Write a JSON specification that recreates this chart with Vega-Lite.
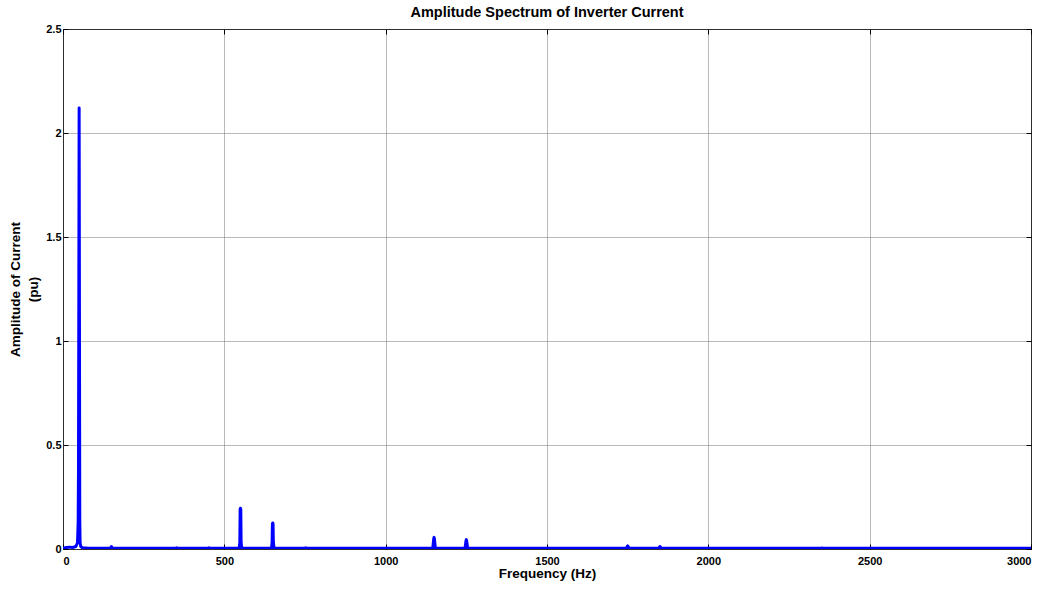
{
  "$schema": "https://vega.github.io/schema/vega-lite/v6.json",
  "width": 968,
  "height": 520,
  "autosize": {"type": "none"},
  "padding": {"left": 63, "top": 29, "right": 20, "bottom": 41},
  "background": "white",
  "title": {
    "text": "Amplitude Spectrum of Inverter Current",
    "font": "Liberation Sans",
    "fontSize": 14.5,
    "fontWeight": "bold",
    "color": "black",
    "anchor": "middle",
    "offset": 3
  },
  "config": {
    "view": {"stroke": "black", "strokeWidth": 1},
    "axis": {
      "labelFont": "Liberation Sans",
      "labelFontSize": 11,
      "labelFontWeight": "bold",
      "labelColor": "black",
      "titleFont": "Liberation Sans",
      "titleFontSize": 13.5,
      "titleFontWeight": "bold",
      "titleColor": "black",
      "domain": false,
      "tickColor": "black",
      "tickSize": -5,
      "gridColor": "#666666",
      "gridDash": [1, 1],
      "gridOpacity": 0.9
    }
  },
  "data": {
    "values": [
      {"f": 0, "a": 0.004}, {"f": 10, "a": 0.007}, {"f": 20, "a": 0.009}, {"f": 30, "a": 0.007},
      {"f": 40, "a": 0.012}, {"f": 45, "a": 0.03}, {"f": 47, "a": 0.13}, {"f": 48, "a": 0.38},
      {"f": 49, "a": 1.2}, {"f": 50, "a": 2.12}, {"f": 51, "a": 1.1}, {"f": 52, "a": 0.14},
      {"f": 53, "a": 0.03}, {"f": 55, "a": 0.012}, {"f": 60, "a": 0.006}, {"f": 80, "a": 0.004},
      {"f": 147, "a": 0.004}, {"f": 150, "a": 0.012}, {"f": 153, "a": 0.004},
      {"f": 350, "a": 0.004}, {"f": 352, "a": 0.006}, {"f": 354, "a": 0.004},
      {"f": 450, "a": 0.004}, {"f": 452, "a": 0.006}, {"f": 454, "a": 0.004},
      {"f": 546, "a": 0.004}, {"f": 548, "a": 0.03}, {"f": 549, "a": 0.19}, {"f": 550, "a": 0.196},
      {"f": 551, "a": 0.19}, {"f": 552, "a": 0.03}, {"f": 554, "a": 0.004},
      {"f": 646, "a": 0.004}, {"f": 648, "a": 0.03}, {"f": 649, "a": 0.12}, {"f": 650, "a": 0.125},
      {"f": 651, "a": 0.12}, {"f": 652, "a": 0.03}, {"f": 654, "a": 0.004},
      {"f": 750, "a": 0.004}, {"f": 752, "a": 0.006}, {"f": 754, "a": 0.004},
      {"f": 1146, "a": 0.004}, {"f": 1149, "a": 0.05}, {"f": 1150, "a": 0.056}, {"f": 1151, "a": 0.05},
      {"f": 1154, "a": 0.004},
      {"f": 1246, "a": 0.004}, {"f": 1249, "a": 0.04}, {"f": 1250, "a": 0.045}, {"f": 1251, "a": 0.04},
      {"f": 1254, "a": 0.004},
      {"f": 1746, "a": 0.004}, {"f": 1749, "a": 0.013}, {"f": 1750, "a": 0.015}, {"f": 1751, "a": 0.013},
      {"f": 1754, "a": 0.004},
      {"f": 1846, "a": 0.004}, {"f": 1849, "a": 0.01}, {"f": 1850, "a": 0.012}, {"f": 1851, "a": 0.01},
      {"f": 1854, "a": 0.004},
      {"f": 2350, "a": 0.004}, {"f": 2352, "a": 0.005}, {"f": 2354, "a": 0.004},
      {"f": 3000, "a": 0.004}
    ]
  },
  "layer": [
    {
      "mark": {"type": "line", "color": "#0000ff", "strokeWidth": 3, "strokeJoin": "round", "clip": true},
      "encoding": {
        "x": {
          "field": "f", "type": "quantitative",
          "scale": {"domain": [0, 3000], "nice": false, "zero": false},
          "axis": {"title": "Frequency (Hz)", "format": "d", "values": [0, 500, 1000, 1500, 2000, 2500, 3000], "labelPadding": 11, "titlePadding": 0}
        },
        "y": {
          "field": "a", "type": "quantitative",
          "scale": {"domain": [0, 2.5], "nice": false},
          "axis": {"title": ["Amplitude of Current", "(pu)"], "titleLineHeight": 18, "format": "~g", "values": [0, 0.5, 1, 1.5, 2, 2.5], "labelPadding": 7, "titlePadding": 5}
        }
      }
    },
    {
      "mark": {"type": "line", "opacity": 0},
      "encoding": {
        "x": {"field": "f", "type": "quantitative", "axis": {"orient": "top", "labels": false, "grid": false, "title": null, "values": [0, 500, 1000, 1500, 2000, 2500, 3000]}},
        "y": {"field": "a", "type": "quantitative", "axis": {"orient": "right", "labels": false, "grid": false, "title": null, "values": [0, 0.5, 1, 1.5, 2, 2.5]}}
      }
    }
  ],
  "resolve": {"axis": {"x": "independent", "y": "independent"}}
}
